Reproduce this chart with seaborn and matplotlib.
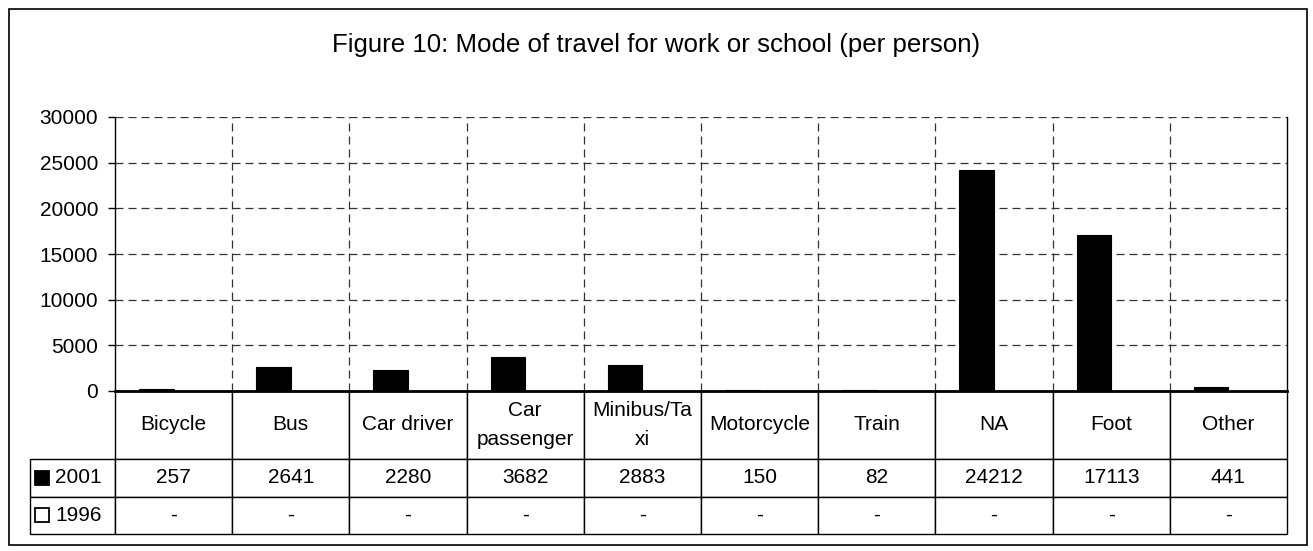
import numpy as np
import pandas as pd
import seaborn as sns
import matplotlib.pyplot as plt
from matplotlib.patches import Rectangle
from matplotlib.table import Table

# Data
modes = ["Bicycle", "Bus", "Car driver", "Car passenger", "Minibus/Taxi",
         "Motorcycle", "Train", "NA", "Foot", "Other"]
header_labels = ["Bicycle", "Bus", "Car driver", "Car\npassenger", "Minibus/Ta\nxi",
                 "Motorcycle", "Train", "NA", "Foot", "Other"]
values_2001 = [257, 2641, 2280, 3682, 2883, 150, 82, 24212, 17113, 441]
values_1996 = [np.nan] * 10  # shown as "-" in the table
years = ["2001", "1996"]
key_colors = ["black", "white"]

df = pd.DataFrame({
    "Mode": modes * 2,
    "Year": ["2001"] * 10 + ["1996"] * 10,
    "Count": values_2001 + values_1996,
})

sns.set_theme(style="white")
plt.rcParams["font.family"] = ["Liberation Sans", "DejaVu Sans"]
plt.rcParams["text.color"] = "black"
plt.rcParams["ytick.color"] = "black"
plt.rcParams["xtick.color"] = "black"

W, H = 1313, 551
fig = plt.figure(figsize=(W / 100, H / 100), dpi=100)
ax = fig.add_axes([115 / W, 1 - 391 / H, (1287 - 115) / W, (391 - 117) / H])

sns.barplot(data=df, x="Mode", y="Count", hue="Year", hue_order=years,
            order=modes, palette=key_colors, edgecolor="black",
            linewidth=0.8, width=0.59, legend=False, ax=ax)

ax.set_xlim(-0.5, 9.5)
ax.set_ylim(0, 30000)
ax.set_yticks(range(0, 30001, 5000))
ax.tick_params(axis="y", labelsize=15, length=5, width=1, color="black",
               labelcolor="black", left=True, pad=7)
ax.set_xticks([])
ax.set_xticks(np.arange(0.5, 9.5, 1), minor=True)
ax.tick_params(axis="x", which="both", length=0, bottom=False)
ax.set_xlabel("")
ax.set_ylabel("")

# dashed grid: horizontal at ticks, vertical between categories
dash = (0, (6.4, 4))
ax.grid(True, axis="y", which="major", linestyle=dash, color="#333333", linewidth=0.9)
ax.grid(True, axis="x", which="minor", linestyle=dash, color="#333333", linewidth=0.9)
ax.set_axisbelow(True)

ax.spines["top"].set_visible(False)
for side in ["left", "right"]:
    ax.spines[side].set_color("black")
    ax.spines[side].set_linewidth(1)
ax.spines["bottom"].set_color("black")
ax.spines["bottom"].set_linewidth(2)

# data table under the plot, first column holds the series keys
ax_w, ax_h = 1287 - 115, 391 - 117
table = Table(ax, bbox=[(30 - 115) / ax_w, -(534 - 391) / ax_h,
                        (1287 - 30) / ax_w, (534 - 391) / ax_h])
label_w, col_w = 85, 117.2
head_h, row_h = 68, 37.5

corner = table.add_cell(0, 0, label_w, head_h, text="")
corner.visible_edges = ""
for j, lab in enumerate(header_labels):
    c = table.add_cell(0, j + 1, col_w, head_h, text=lab, loc="center")
    c.get_text().set_linespacing(1.7)

rows = [values_2001, values_1996]
for i, (year, vals) in enumerate(zip(years, rows)):
    c = table.add_cell(i + 1, 0, label_w, row_h, text=year, loc="left")
    c.PAD = 25 / label_w
    for j, v in enumerate(vals):
        txt = "-" if np.isnan(v) else f"{int(v)}"
        table.add_cell(i + 1, j + 1, col_w, row_h, text=txt, loc="center")

table.auto_set_font_size(False)
table.set_fontsize(15)
for cell in table.get_celld().values():
    cell.set_edgecolor("black")
    cell.set_linewidth(1)
    cell.get_text().set_color("black")
ax.add_table(table)

# legend keys inside the row-label cells
row_centers = [391 + head_h + row_h / 2, 391 + head_h + row_h * 1.5]
for yc, col in zip(row_centers, key_colors):
    ax.add_patch(Rectangle(((35 - 115) / ax_w, (391 - yc - 7) / ax_h),
                           14 / ax_w, 14 / ax_h, transform=ax.transAxes,
                           facecolor=col, edgecolor="black", linewidth=1.3,
                           clip_on=False))

fig.text(0.5, 1 - 45 / H, "Figure 10: Mode of travel for work or school (per person)",
         ha="center", va="center", fontsize=18.6, color="black")

fig.add_artist(Rectangle((9 / W, 1 - 545 / H), (1307 - 9) / W, (545 - 9) / H,
                         transform=fig.transFigure, fill=False,
                         edgecolor="black", linewidth=1.2))

fig.savefig("out.png", dpi=100, facecolor="white")
